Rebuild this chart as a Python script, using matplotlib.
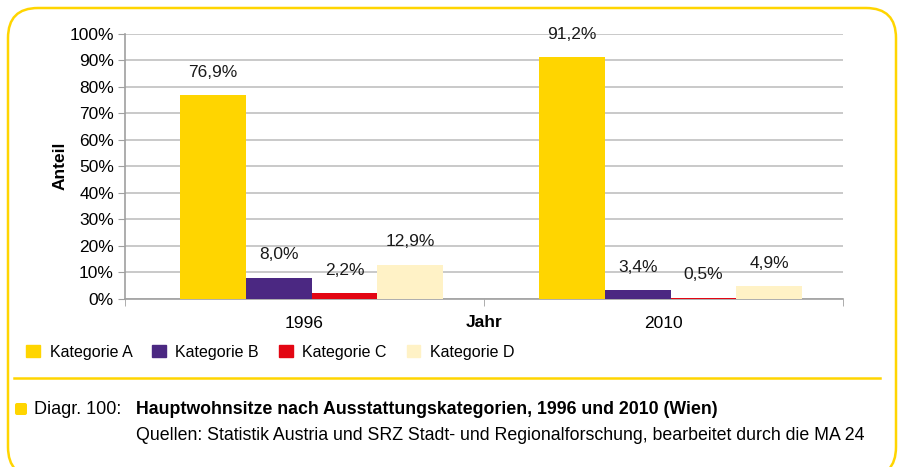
import matplotlib
matplotlib.use("Agg")
import matplotlib.pyplot as plt
from matplotlib.patches import FancyBboxPatch, Rectangle
import numpy as np

years = ["1996", "2010"]
categories = ["Kategorie A", "Kategorie B", "Kategorie C", "Kategorie D"]
values = {
    "Kategorie A": [76.9, 91.2],
    "Kategorie B": [8.0, 3.4],
    "Kategorie C": [2.2, 0.5],
    "Kategorie D": [12.9, 4.9],
}
colors = ["#FFD500", "#4B2882", "#E30613", "#FFF2C6"]
yticks = [0, 10, 20, 30, 40, 50, 60, 70, 80, 90, 100]

FONT = ["Liberation Sans Narrow", "Liberation Sans", "DejaVu Sans"]
plt.rcParams['font.family'] = FONT

fig = plt.figure(figsize=(8.99, 4.67), dpi=100)
W, H = 899, 467

# background axes in pixel coordinates (origin bottom-left)
bg = fig.add_axes([0, 0, 1, 1], zorder=-1)
bg.set_xlim(0, W)
bg.set_ylim(0, H)
bg.axis("off")
bg.add_patch(FancyBboxPatch((8, -10), 888, H - 8 + 10,
                            boxstyle="round,pad=0,rounding_size=30",
                            fill=False, edgecolor="#FFD500", linewidth=1.8,
                            clip_on=False))
bg.plot([14, 880], [H - 378, H - 378], color="#FFD500", linewidth=1.8)
bg.add_patch(FancyBboxPatch((15, H - 415), 12, 12,
                            boxstyle="round,pad=0,rounding_size=2",
                            facecolor="#FFD500", edgecolor="none"))

ax = fig.add_axes([125 / W, 1 - 299 / H, (843 - 125) / W, (299 - 33.5) / H])
x = np.arange(len(years))
bw = 0.183
n = len(categories)
for i, (cat, col) in enumerate(zip(categories, colors)):
    offs = (i - (n - 1) / 2) * bw + 0.02
    bars = ax.bar(x + offs, values[cat], width=bw, color=col, label=cat, zorder=3)
    for b, v in zip(bars, values[cat]):
        ax.annotate(f"{v:.1f}".replace(".", ",") + "%",
                    (b.get_x() + b.get_width() / 2, v),
                    xytext=(0, 11), textcoords="offset points",
                    ha="center", va="bottom", fontsize=12.5, color="#1a1a1a")

ax.set_xlim(-0.5, 1.5)
ax.set_ylim(0, 100)
ax.set_yticks(yticks)
ax.set_yticklabels([f"{t}%" for t in yticks], fontsize=12.5)
ax.yaxis.grid(True, color="#C0C0C0", linewidth=1.2, zorder=0)
ax.set_xticks(x)
ax.set_xticklabels(years, fontsize=12.5)
ax.set_xticks([-0.5, 0.5, 1.5], minor=True)
ax.tick_params(axis="x", which="major", length=0, pad=12)
ax.tick_params(axis="x", which="minor", length=5, color="#A0A0A0")
ax.tick_params(axis="y", length=5, color="#A0A0A0", pad=3)
for s in ["top", "right"]:
    ax.spines[s].set_visible(False)
for s in ["left", "bottom"]:
    ax.spines[s].set_color("#A0A0A0")
    ax.spines[s].set_linewidth(1.2)

ax.set_ylabel("Anteil", fontsize=12.5, fontweight="bold", labelpad=1)
ax.text(0.5, -0.09, "Jahr", transform=ax.transAxes, ha="center", va="center",
        fontsize=12.5, fontweight="bold")

# legend
handles = [Rectangle((0, 0), 1, 1, color=c) for c in colors]
leg = fig.legend(handles, categories, loc="center left",
                 bbox_to_anchor=(12 / W, 1 - 352 / H), ncol=4, frameon=False,
                 fontsize=11.5, handlelength=0.85, handleheight=0.85,
                 handletextpad=0.6, columnspacing=1.25)

# footer
fig.text(34 / W, 1 - 409 / H, "Diagr. 100:", fontsize=13, va="center", ha="left")
fig.text(136 / W, 1 - 409 / H,
         "Hauptwohnsitze nach Ausstattungskategorien, 1996 und 2010 (Wien)",
         fontsize=12.8, fontweight="bold", va="center", ha="left")
fig.text(136 / W, 1 - 436 / H,
         "Quellen: Statistik Austria und SRZ Stadt- und Regionalforschung, bearbeitet durch die MA 24",
         fontsize=12.8, va="center", ha="left")

fig.savefig("out.png", dpi=100)
